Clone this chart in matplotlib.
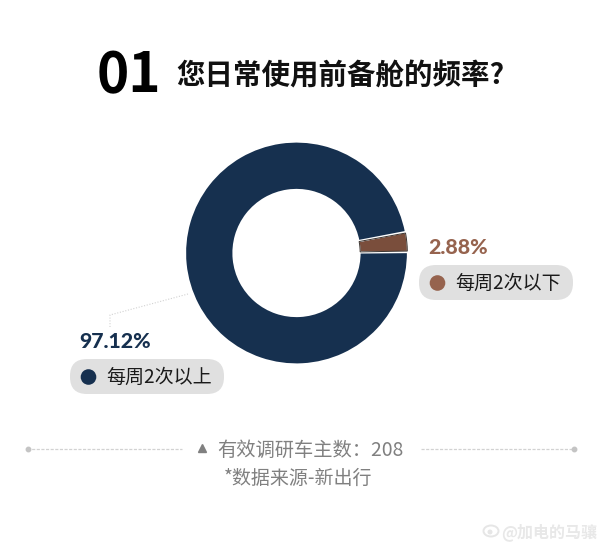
"""Donut chart: how often the pre-cooling cabin is used."""

import matplotlib

matplotlib.use("Agg")
from matplotlib import pyplot as plt
from matplotlib.patches import Circle, Ellipse, FancyBboxPatch, Wedge

plt.rcParams["font.family"] = ["Noto Sans CJK SC", "DejaVu Sans"]

# Data
categories = ["每周2次以下", "每周2次以上"]
shares = [2.88, 97.12]
sample_size = 208
question = "您日常使用前备舱的频率?"
question_no = "01"
source = "*数据来源-新出行"
watermark = "@加电的马骧"

slice_colors = ["#7a4e3c", "#16304f"]
label_colors = ["#96634e", "#16304f"]
GREY = "#808080"
LINE_GREY = "#d2d2d2"

WIDTH, HEIGHT = 600, 543
CENTER = (296.5, 253)
RADIUS = 111.5
INNER = 63

fig = plt.figure(figsize=(WIDTH / 100, HEIGHT / 100), dpi=100, facecolor="white")

# Overlay in pixel coordinates, y pointing down
ax = fig.add_axes([0, 0, 1, 1])
ax.set_xlim(0, WIDTH)
ax.set_ylim(HEIGHT, 0)
ax.axis("off")

# ---------------------------------------------------------------------------
# Donut
# ---------------------------------------------------------------------------

pie_ax = fig.add_axes(
    [
        (CENTER[0] - RADIUS) / WIDTH,
        1 - (CENTER[1] + RADIUS) / HEIGHT,
        2 * RADIUS / WIDTH,
        2 * RADIUS / HEIGHT,
    ]
)
wedges, _ = pie_ax.pie(
    shares,
    colors=slice_colors,
    startangle=0.5,
    counterclock=True,
    radius=1.0,
    wedgeprops={"width": 1 - INNER / RADIUS, "edgecolor": "white", "linewidth": 1.6},
)
pie_ax.set_xlim(-1, 1)
pie_ax.set_ylim(-1, 1)

# Thin dark outline just inside the small slice
small = wedges[0]
pie_ax.add_patch(
    Wedge(
        small.center, small.r - 0.006, small.theta1 + 0.5, small.theta2 - 0.5,
        width=small.width - 0.012,
        facecolor="none", edgecolor="#3b332f", linewidth=0.7,
    )
)

# ---------------------------------------------------------------------------
# Title
# ---------------------------------------------------------------------------

ax.text(97, 76, question_no, fontsize=39.5, fontweight=900, color="black",
        ha="left", va="center")
ax.text(176.5, 76, question, fontsize=20.5, fontweight="bold", color="#111111",
        ha="left", va="center")

# ---------------------------------------------------------------------------
# Labels
# ---------------------------------------------------------------------------

pills = [(419, 265), (70, 359)]
for (px, py), name, share, color in zip(pills, categories, shares, label_colors):
    ax.add_patch(
        FancyBboxPatch(
            (px + 17, py + 17), 120, 1,
            boxstyle="round,pad=17,rounding_size=17",
            facecolor="#e0e0e0", edgecolor="none",
        )
    )
    ax.add_patch(Circle((px + 18.5, py + 18), 7.8, facecolor=color, edgecolor="none"))
    ax.text(px + 36, py + 18, name, fontsize=13.7, color="#1a1a1a",
            ha="left", va="center")
    ax.text(px + 9.5, py - 17, f"{share:.2f}%", fontsize=15.3, fontweight=900,
            color=color, family="Lato", ha="left", va="center")

# Leader line of the big slice
ax.plot([188, 110, 110], [294, 315, 327], color=LINE_GREY, lw=0.8, ls=(0, (1, 1.5)))

# ---------------------------------------------------------------------------
# Footer
# ---------------------------------------------------------------------------

for x0, x1 in [(27, 182), (421, 574)]:
    ax.plot([x0, x1], [449, 449], color=LINE_GREY, lw=0.9, ls=(0, (2.5, 1.2)))
ax.plot([28, 574], [449, 449], ls="none", marker="o", ms=3.2, color="#c4c4c4")
ax.plot([202], [448], ls="none", marker="^", ms=5.5, color=GREY)
ax.text(217.5, 450, f"有效调研车主数：{sample_size}", fontsize=13.9, color=GREY,
        ha="left", va="center")
ax.text(298.5, 478, source, fontsize=13.7, color=GREY, ha="center", va="center")

# Watermark with a rough logo
ax.add_patch(Ellipse((491, 531), 15, 11, facecolor="none", edgecolor="#e6e6e6", lw=1.4))
ax.add_patch(Circle((490, 532), 2.5, facecolor="#e6e6e6", edgecolor="none"))
ax.text(597, 532, watermark, fontsize=11.5, fontweight="bold", color="#e8e8e8",
        ha="right", va="center")

fig.savefig("out.png", dpi=100)
plt.close(fig)
